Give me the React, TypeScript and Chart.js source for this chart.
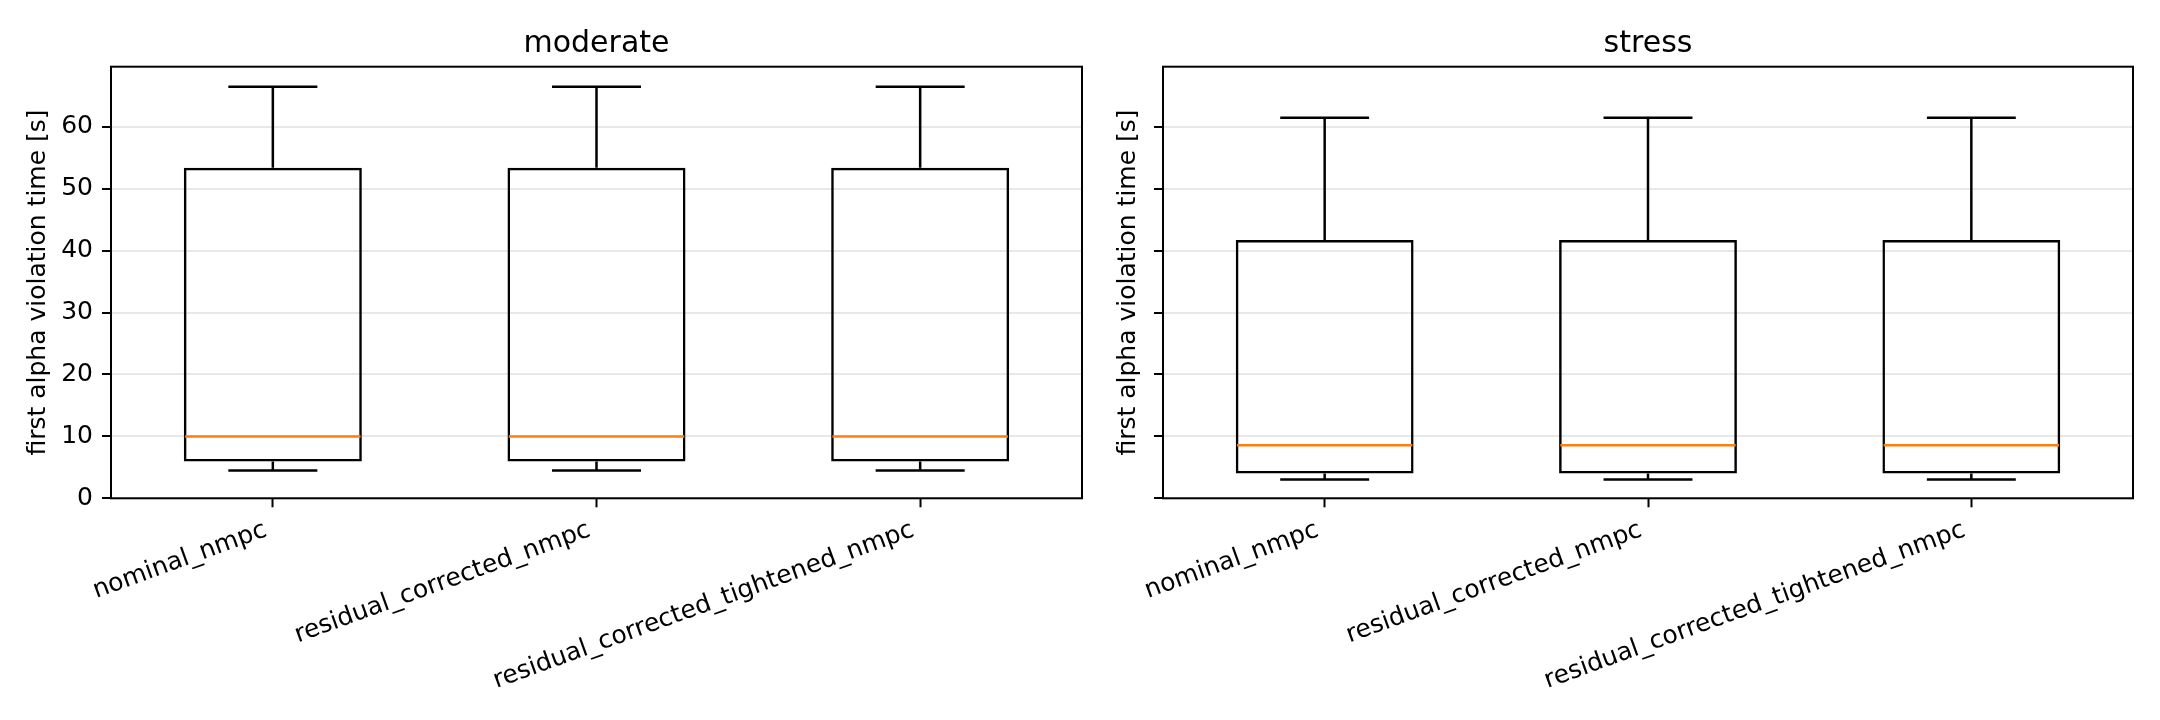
import React, { useEffect, useRef } from 'react';
import { Chart, registerables } from 'chart.js';

Chart.register(...registerables);

// ---------------- data ----------------
const categories = ['nominal_nmpc', 'residual_corrected_nmpc', 'residual_corrected_tightened_nmpc'];
const panelTitles = ['moderate', 'stress'];
const yTickValues = [0, 10, 20, 30, 40, 50, 60];
const yAxisLabel = 'first alpha violation time [s]';
const yMin = 0;
const yMax = 69.7;

// moderate scenario (per category): whisker low, Q1, median, Q3, whisker high
const moderateLow = [4.5, 4.5, 4.5];
const moderateQ1 = [5.95, 5.95, 5.95];
const moderateMedian = [10.0, 10.0, 10.0];
const moderateQ3 = [53.4, 53.4, 53.4];
const moderateHigh = [66.45, 66.45, 66.45];

// stress scenario
const stressLow = [3.05, 3.05, 3.05];
const stressQ1 = [4.0, 4.0, 4.0];
const stressMedian = [8.55, 8.55, 8.55];
const stressQ3 = [41.7, 41.7, 41.7];
const stressHigh = [61.45, 61.45, 61.45];

// ---------------- styles ----------------
const FONT = "'DejaVu Sans', sans-serif";
const BOX_WIDTH = 0.55; // fraction of category spacing
const CAP_WIDTH = 0.275;
const LINE_W = 2.5;
const MEDIAN_COLOR = '#ff7f0e';
const GRID_COLOR = '#e8e8e8';
const H = 720;

type Stats = { low: number[]; q1: number[]; med: number[]; q3: number[]; high: number[] };

const moderateStats: Stats = { low: moderateLow, q1: moderateQ1, med: moderateMedian, q3: moderateQ3, high: moderateHigh };
const stressStats: Stats = { low: stressLow, q1: stressQ1, med: stressMedian, q3: stressQ3, high: stressHigh };

const makeBoxPlugin = (stats: Stats) => ({
  id: 'boxWhiskers',
  afterDatasetsDraw(chart: any) {
    const { ctx } = chart;
    const xs = chart.scales.x;
    const ys = chart.scales.y;
    const spacing = xs.getPixelForValue(1) - xs.getPixelForValue(0);
    ctx.save();
    ctx.lineCap = 'butt';
    for (let i = 0; i < categories.length; i++) {
      const cx = xs.getPixelForValue(i);
      const capHalf = (CAP_WIDTH * spacing) / 2;
      const boxHalf = (BOX_WIDTH * spacing) / 2;
      const yLow = ys.getPixelForValue(stats.low[i]);
      const yQ1 = ys.getPixelForValue(stats.q1[i]);
      const yMed = ys.getPixelForValue(stats.med[i]);
      const yQ3 = ys.getPixelForValue(stats.q3[i]);
      const yHigh = ys.getPixelForValue(stats.high[i]);
      ctx.strokeStyle = '#000';
      ctx.lineWidth = LINE_W;
      ctx.beginPath();
      // whiskers
      ctx.moveTo(cx, yQ1);
      ctx.lineTo(cx, yLow);
      ctx.moveTo(cx, yQ3);
      ctx.lineTo(cx, yHigh);
      // caps
      ctx.moveTo(cx - capHalf, yLow);
      ctx.lineTo(cx + capHalf, yLow);
      ctx.moveTo(cx - capHalf, yHigh);
      ctx.lineTo(cx + capHalf, yHigh);
      ctx.stroke();
      // median
      ctx.strokeStyle = MEDIAN_COLOR;
      ctx.beginPath();
      ctx.moveTo(cx - boxHalf + LINE_W / 2, yMed);
      ctx.lineTo(cx + boxHalf - LINE_W / 2, yMed);
      ctx.stroke();
    }
    ctx.restore();
  },
});

const framePlugin = {
  id: 'axesFrame',
  afterDatasetsDraw(chart: any) {
    const { ctx, chartArea } = chart;
    ctx.save();
    ctx.strokeStyle = '#000';
    ctx.lineWidth = 2;
    ctx.strokeRect(chartArea.left, chartArea.top, chartArea.right - chartArea.left, chartArea.bottom - chartArea.top);
    ctx.restore();
  },
};

type PanelProps = {
  left: number;
  width: number;
  title: string;
  stats: Stats;
  showTickLabels: boolean;
  yAxisWidth: number;
  padRight: number;
};

function Panel({ left, width, title, stats, showTickLabels, yAxisWidth, padRight }: PanelProps) {
  const ref = useRef<HTMLCanvasElement>(null);
  useEffect(() => {
    if (!ref.current) return;
    const chart = new Chart(ref.current, {
      type: 'bar',
      data: {
        labels: categories,
        datasets: [
          {
            data: categories.map((_, i) => [stats.q1[i], stats.q3[i]]) as any,
            backgroundColor: 'rgba(0,0,0,0)',
            borderColor: '#000',
            borderWidth: LINE_W,
            borderSkipped: false,
            barPercentage: BOX_WIDTH,
            categoryPercentage: 1,
          },
        ],
      },
      options: {
        animation: false,
        responsive: false,
        maintainAspectRatio: false,
        devicePixelRatio: 1,
        layout: { padding: { left: 0, right: padRight, top: 0, bottom: 0 } },
        plugins: {
          legend: { display: false },
          tooltip: { enabled: false },
          title: {
            display: true,
            text: title,
            fullSize: false,
            color: '#000',
            font: { family: FONT, size: 30, weight: 'normal' },
            padding: { top: 26.3, bottom: 4.4 },
          },
        },
        scales: {
          x: {
            type: 'category',
            offset: true,
            grid: {
              display: true,
              drawOnChartArea: false,
              drawTicks: true,
              tickLength: 9,
              tickColor: '#000',
              tickWidth: 2,
              offset: false,
            },
            border: { display: false },
            ticks: {
              autoSkip: false,
              minRotation: 20,
              maxRotation: 20,
              padding: 8,
              labelOffset: -7,
              color: '#000',
              font: { family: FONT, size: 25 },
            },
            afterFit: (s: any) => {
              s.height = H - 498.3;
            },
          },
          y: {
            type: 'linear',
            min: yMin,
            max: yMax,
            afterBuildTicks: (s: any) => {
              s.ticks = yTickValues.map((v) => ({ value: v }));
            },
            grid: {
              color: GRID_COLOR,
              lineWidth: 2,
              drawTicks: true,
              tickLength: 9,
              tickColor: '#000',
              tickWidth: 2,
            },
            border: { display: false },
            ticks: {
              padding: 9,
              color: '#000',
              font: { family: FONT, size: 25 },
              callback: (v: any) => (showTickLabels ? String(v) : ''),
            },
            title: {
              display: true,
              text: yAxisLabel,
              color: '#000',
              font: { family: FONT, size: 25 },
              padding: { top: 23, bottom: 0 },
            },
            afterFit: (s: any) => {
              s.width = yAxisWidth;
            },
          },
        },
      } as any,
      plugins: [makeBoxPlugin(stats), framePlugin],
    });
    return () => chart.destroy();
  }, []);
  return (
    <canvas
      ref={ref}
      width={width}
      height={H}
      style={{ position: 'absolute', left, top: 0, width, height: H }}
    />
  );
}

export default function App() {
  return (
    <div style={{ position: 'fixed', left: 0, top: 0, width: 2160, height: H, background: '#fff', overflow: 'hidden' }}>
      <Panel left={0} width={1090} title={panelTitles[0]} stats={moderateStats} showTickLabels={true} yAxisWidth={111} padRight={8} />
      <Panel left={1090} width={1070} title={panelTitles[1]} stats={stressStats} showTickLabels={false} yAxisWidth={73} padRight={27} />
    </div>
  );
}
